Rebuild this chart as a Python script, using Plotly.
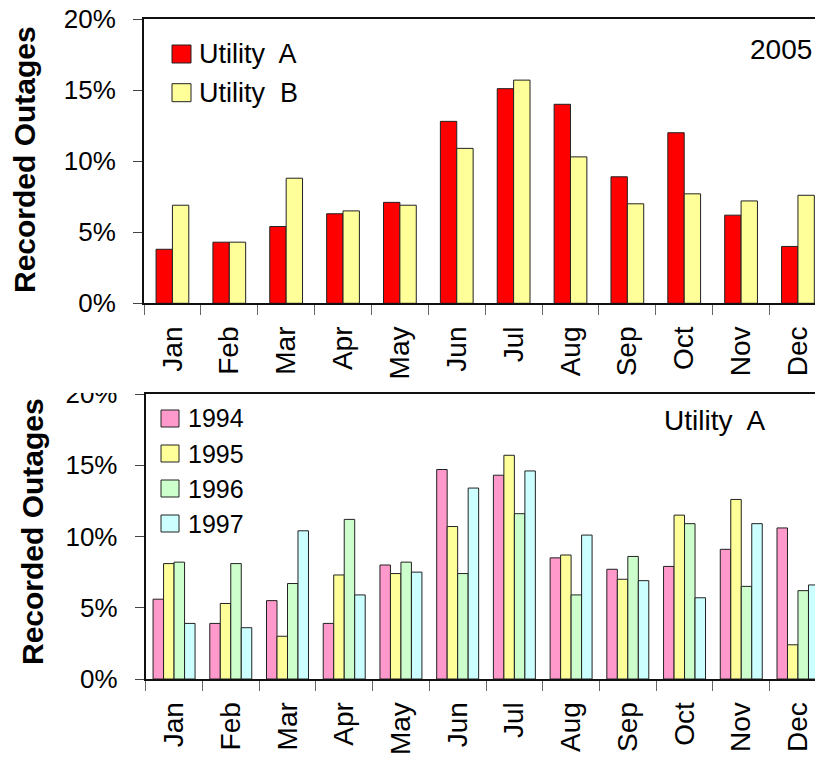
import plotly.graph_objects as go

# ---- data ----
months = ["Jan", "Feb", "Mar", "Apr", "May", "Jun",
          "Jul", "Aug", "Sep", "Oct", "Nov", "Dec"]

utility_names = ["Utility  A", "Utility  B"]
utility_a_2005 = [3.8, 4.3, 5.4, 6.3, 7.1, 12.8, 15.1, 14.0, 8.9, 12.0, 6.2, 4.0]
utility_b_2005 = [6.9, 4.3, 8.8, 6.5, 6.9, 10.9, 15.7, 10.3, 7.0, 7.7, 7.2, 7.6]

years = ["1994", "1995", "1996", "1997"]
outages_1994 = [5.6, 3.9, 5.5, 3.9, 8.0, 14.7, 14.3, 8.5, 7.7, 7.9, 9.1, 10.6]
outages_1995 = [8.1, 5.3, 3.0, 7.3, 7.4, 10.7, 15.7, 8.7, 7.0, 11.5, 12.6, 2.4]
outages_1996 = [8.2, 8.1, 6.7, 11.2, 8.2, 7.4, 11.6, 5.9, 8.6, 10.9, 6.5, 6.2]
outages_1997 = [3.9, 3.6, 10.4, 5.9, 7.5, 13.4, 14.6, 10.1, 6.9, 5.7, 10.9, 6.6]

yticks = [0, 5, 10, 15, 20]
ytick_labels = ["0%", "5%", "10%", "15%", "20%"]

W, H = 815, 757
FONT = "Arial, Liberation Sans, sans-serif"


def px(x):
    return x / W


def py(y):
    return 1 - y / H


top_colors = ["#FF0000", "#FFFF99"]
bottom_colors = ["#FF99CC", "#FFFF99", "#CCFFCC", "#CCFFFF"]

fig = go.Figure()

# top chart: 2005, two utilities
top_series = [utility_a_2005, utility_b_2005]
bw = 0.288
for i, vals in enumerate(top_series):
    fig.add_trace(go.Bar(
        x=months, y=vals, name=utility_names[i],
        width=bw, offset=-bw * len(top_series) / 2 + i * bw,
        marker=dict(color=top_colors[i], line=dict(color="#222", width=1)),
        xaxis="x", yaxis="y", showlegend=False,
    ))

# bottom chart: Utility A by year
bottom_series = [outages_1994, outages_1995, outages_1996, outages_1997]
bw2 = 0.185
for i, vals in enumerate(bottom_series):
    fig.add_trace(go.Bar(
        x=months, y=vals, name=years[i],
        width=bw2, offset=-bw2 * len(bottom_series) / 2 + i * bw2,
        marker=dict(color=bottom_colors[i], line=dict(color="#222", width=1)),
        xaxis="x2", yaxis="y2", showlegend=False,
    ))

xaxis_style = dict(
    type="category", tickson="boundaries", ticks="outside", ticklen=10,
    tickwidth=1, tickcolor="#666", tickangle=-90, ticklabelstandoff=10,
    showline=True, linecolor="#111", linewidth=2, mirror=True,
    showgrid=False, zeroline=False, fixedrange=True, automargin=False,
    ticklabeloverflow="allow",
    tickfont=dict(family=FONT, size=28, color="black"),
)
yaxis_style = dict(
    range=[0, 20], tickmode="array", tickvals=yticks, ticktext=ytick_labels,
    ticks="outside", ticklen=9, tickwidth=1, tickcolor="#444", ticklabelstandoff=12,
    showline=True, linecolor="#111", linewidth=2,
    showgrid=False, zeroline=False, fixedrange=True, automargin=False,
    ticklabeloverflow="allow",
    tickfont=dict(family=FONT, size=26, color="black"),
)

shapes = []
annotations = []

# manual legends with larger swatches
for i, name in enumerate(utility_names):
    y0 = 45 + i * 38.7
    shapes.append(dict(type="rect", xref="paper", yref="paper",
                       x0=px(172), x1=px(191), y0=py(y0), y1=py(y0 + 18),
                       fillcolor=top_colors[i], line=dict(color="#222", width=1)))
    annotations.append(dict(text=name, xref="paper", yref="paper",
                            x=px(197), y=py(y0 + 9), xanchor="left", yanchor="middle",
                            showarrow=False, font=dict(family=FONT, size=27, color="black")))

for i, name in enumerate(years):
    y0 = 410 + i * 35
    shapes.append(dict(type="rect", xref="paper", yref="paper",
                       x0=px(161), x1=px(179), y0=py(y0), y1=py(y0 + 17),
                       fillcolor=bottom_colors[i], line=dict(color="#222", width=1)))
    annotations.append(dict(text=name, xref="paper", yref="paper",
                            x=px(186), y=py(y0 + 8.5), xanchor="left", yanchor="middle",
                            showarrow=False, font=dict(family=FONT, size=25, color="black")))

annotations.append(dict(text="2005", xref="paper", yref="paper",
                        x=px(814), y=py(50), xanchor="right", yanchor="middle",
                        showarrow=False, font=dict(family=FONT, size=28, color="black")))
annotations.append(dict(text="Utility  A", xref="paper", yref="paper",
                        x=px(662), y=py(420), xanchor="left", yanchor="middle",
                        showarrow=False, font=dict(family=FONT, size=28, color="black")))

# y axis titles
for yc, xc in [(160, 24), (532, 32)]:
    annotations.append(dict(text="<b>Recorded Outages</b>", xref="paper", yref="paper",
                            x=px(xc), y=py(yc), xanchor="center", yanchor="middle",
                            textangle=-90, showarrow=False,
                            font=dict(family=FONT, size=30, color="black")))

# the lower panel's top tick label is cut off in the source image
shapes.append(dict(type="rect", xref="paper", yref="paper", layer="above",
                   x0=px(50), x1=px(141), y0=py(393), y1=py(378),
                   fillcolor="white", line=dict(width=0)))

fig.update_layout(
    width=W, height=H,
    margin=dict(l=0, r=0, t=0, b=0, autoexpand=False),
    paper_bgcolor="white", plot_bgcolor="white",
    font=dict(family=FONT, color="black"),
    xaxis=dict(xaxis_style, domain=[px(144), 1], range=[-0.5, 11.3], anchor="y"),
    yaxis=dict(yaxis_style, domain=[py(303.3), py(19)], anchor="x"),
    xaxis2=dict(xaxis_style, domain=[px(145.7), 1], range=[-0.5, 11.3], anchor="y2"),
    yaxis2=dict(yaxis_style, domain=[py(679), py(394)], anchor="x2"),
    shapes=shapes,
    annotations=annotations,
    showlegend=False,
)

# drop the default page margin so the figure fills the window exactly
fig.write_html("out.html",
               config={"displayModeBar": False},
               post_script="document.body.style.margin='0';"
                           "document.body.style.overflow='hidden';")
